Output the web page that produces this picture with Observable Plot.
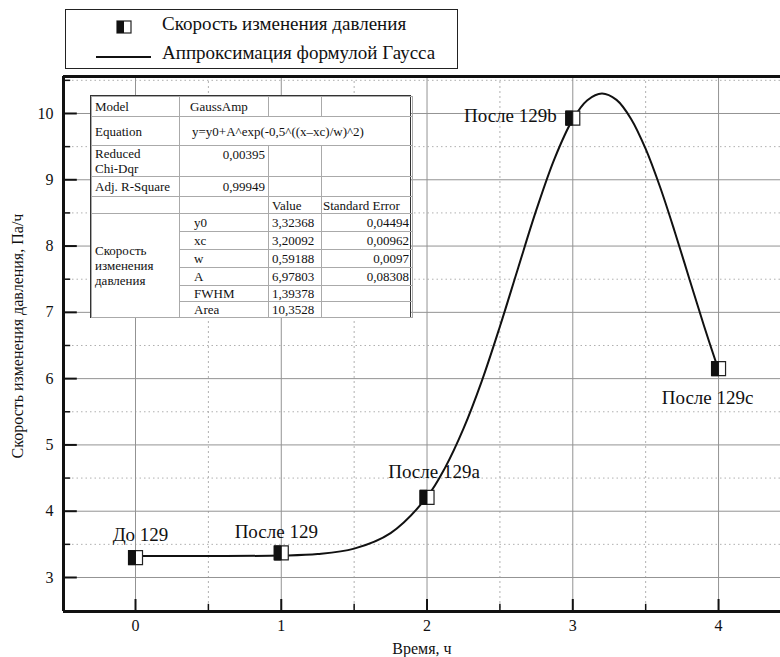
<!DOCTYPE html>
<html>
<head>
<meta charset="utf-8">
<script src="https://cdn.jsdelivr.net/npm/d3@7"></script>
<script src="https://cdn.jsdelivr.net/npm/@observablehq/plot@0.6"></script>
<style>
  html, body { margin: 0; padding: 0; background: #fff; overflow: hidden; }
  body { width: 780px; height: 657px; position: relative; font-family: "Liberation Serif", "DejaVu Serif", serif; }
  #legend { position: absolute; left: 65px; top: 9px; width: 393px; height: 60px; border: 1.5px solid #222; box-sizing: border-box; background: #fff; }
  #legend .row { position: absolute; left: 0; font-size: 19px; color: #111; white-space: nowrap; font-family: "Liberation Serif", serif; }
  #chart { position: absolute; left: 0; top: 72px; }
  #tbl { position: absolute; left: 90px; top: 95px; width: 321px; height: 223px; background: #fff; border: 1.5px solid #333; box-sizing: border-box; }
  #tbl table { border-collapse: collapse; width: 100%; height: 100%; font-size: 13px; color: #111; table-layout: fixed; font-family: "Liberation Serif", serif; }
  #tbl td { border: 1px solid #aaa; padding: 0 3px; line-height: 13px; vertical-align: middle; white-space: nowrap; overflow: visible; }
  #tbl td.r { text-align: right; }
</style>
</head>
<body>
<div id="legend"></div>
<div id="chart"></div>
<div id="tbl"></div>
<script>
// ---- data ----
const times = [0, 1, 2, 3, 4];
const rates = [3.30, 3.37, 4.21, 9.93, 6.15];
const pointLabels = ["До 129", "После 129", "После 129a", "После 129b", "После 129c"];

// fitted curve
const curveX = [0, 0.5, 1, 1.25, 1.5, 1.75, 2, 2.125, 2.25, 2.375, 2.5, 2.625, 2.75, 2.875, 3, 3.1, 3.2, 3.3, 3.4, 3.5, 3.6, 3.7, 3.8, 3.9, 4];
const curveY = [3.324, 3.324, 3.331, 3.354, 3.436, 3.670, 4.215, 4.661, 5.245, 5.959, 6.786, 7.670, 8.545, 9.320, 9.911, 10.201, 10.302, 10.205, 9.918, 9.465, 8.883, 8.213, 7.504, 6.798, 6.128];

const xMajor = [0, 1, 2, 3, 4];
const xMinor = [0.5, 1.5, 2.5, 3.5];
const yMajor = [3, 4, 5, 6, 7, 8, 9, 10];
const yMinor = [3.5, 4.5, 5.5, 6.5, 7.5, 8.5, 9.5, 10.5];

const legendLabels = ["Скорость изменения давления", "Аппроксимация формулой Гаусса"];
const xTitle = "Время, ч";
const yTitle = "Скорость изменения давления, Па/ч";

const tableRows = [
  ["Model", "GaussAmp"],
  ["Equation", "y=y0+A^exp(-0,5^((x–xc)/w)^2)"],
  ["Reduced Chi-Dqr", "0,00395"],
  ["Adj. R-Square", "0,99949"]
];
const paramGroup = "Скорость изменения давления";
const paramNames = ["y0", "xc", "w", "A", "FWHM", "Area"];
const paramValues = ["3,32368", "3,20092", "0,59188", "6,97803", "1,39378", "10,3528"];
const paramErrors = ["0,04494", "0,00962", "0,0097", "0,08308", "", ""];

// ---- chart ----
const SERIF = "Liberation Serif, DejaVu Serif, serif";
const points = times.map((t, i) => ({t, v: rates[i], label: pointLabels[i]}));
const curve = curveX.map((x, i) => ({x, y: curveY[i]}));

const xDom = [-0.494, 4.425];
const yDom = [2.487, 10.558];
const xTick = 12 / 145.75;   // tick length in x units
const yTick = 12 / 66.3;     // tick length in y units

const fullSquare = { draw(ctx, size) { const h = Math.sqrt(size / Math.PI); ctx.rect(-h, -h, 2 * h, 2 * h); } };
const leftHalf = { draw(ctx, size) { const h = Math.sqrt(size / Math.PI); ctx.rect(-h, -h, h, 2 * h); } };

const labelMark = (i, opts) => Plot.text(points.filter((d, j) => j === i),
  {x: "t", y: "v", text: "label", fill: "#111", fontSize: 19, fontFamily: SERIF, ...opts});

const plot = Plot.plot({
  width: 780,
  height: 585,
  marginTop: 4,
  marginBottom: 46,
  marginLeft: 63,
  marginRight: 0,
  style: `font-family: ${SERIF}; font-size: 16px; color: #111; background: #fff;`,
  x: {domain: xDom},
  y: {domain: yDom},
  marks: [
    // grid
    Plot.ruleY(yMinor, {stroke: "#b0b0b0", strokeWidth: 1, strokeDasharray: "1.5,3"}),
    Plot.ruleX(xMinor, {stroke: "#b0b0b0", strokeWidth: 1, strokeDasharray: "2,3"}),
    Plot.ruleY(yMajor, {stroke: "#939393", strokeWidth: 1}),
    Plot.ruleX(xMajor, {stroke: "#939393", strokeWidth: 1}),
    // ticks (inward)
    Plot.ruleX(xMajor, {y1: yDom[0], y2: yDom[0] + yTick, stroke: "#111", strokeWidth: 2}),
    Plot.ruleX(xMinor, {y1: yDom[0], y2: yDom[0] + yTick * 0.6, stroke: "#111", strokeWidth: 1.5}),
    Plot.ruleY(yMajor, {x1: xDom[0], x2: xDom[0] + xTick * 1.15, stroke: "#111", strokeWidth: 2}),
    Plot.ruleY(yMinor, {x1: xDom[0], x2: xDom[0] + xTick * 0.6, stroke: "#111", strokeWidth: 1.5}),
    // axes
    Plot.axisX(xMajor, {tickSize: 0, tickPadding: 8, tickFormat: d => String(d), fontSize: 16, fontFamily: SERIF,
      label: xTitle, labelAnchor: "center", labelArrow: "none", labelOffset: 42}),
    Plot.axisY(yMajor, {tickSize: 0, tickPadding: 10, tickFormat: d => String(d), fontSize: 16, fontFamily: SERIF, label: null}),
    Plot.text([yTitle], {frameAnchor: "left", textAnchor: "middle", rotate: -90, dx: -46, dy: -8, fontSize: 16, fontFamily: SERIF, fill: "#111"}),
    // frame lines
    Plot.ruleX([xDom[0]], {stroke: "#111", strokeWidth: 3}),
    Plot.ruleY([yDom[0]], {stroke: "#111", strokeWidth: 3}),
    Plot.ruleY([yDom[1]], {stroke: "#111", strokeWidth: 3}),
    // fitted curve
    Plot.line(curve, {x: "x", y: "y", curve: "catmull-rom", stroke: "#111", strokeWidth: 2}),
    // markers
    Plot.dot(points, {x: "t", y: "v", symbol: fullSquare, r: 7, fill: "#fff", stroke: "#222", strokeWidth: 1.2}),
    Plot.dot(points, {x: "t", y: "v", symbol: leftHalf, r: 7, fill: "#111", stroke: "#111", strokeWidth: 1}),
    // labels
    labelMark(0, {dx: 5, dy: -23}),
    labelMark(1, {dx: -5, dy: -21}),
    labelMark(2, {dx: 7, dy: -25}),
    labelMark(3, {dx: -16, dy: -2, textAnchor: "end"}),
    labelMark(4, {dx: -11, dy: 29})
  ]
});
document.getElementById("chart").appendChild(plot);
plot.querySelectorAll("text").forEach(t => t.style.fontFamily = SERIF);

// ---- legend ----
const lg = document.getElementById("legend");
lg.innerHTML = `
  <div class="row" style="top:4px;left:0;">
    <svg width="96" height="20" style="vertical-align:middle"><rect x="51" y="4" width="14" height="12" fill="#fff" stroke="#222" stroke-width="1.2"/><rect x="51" y="4" width="7" height="12" fill="#111"/></svg><span style="position:relative;top:-1px;">${legendLabels[0]}</span>
  </div>
  <div class="row" style="top:33px;left:0;">
    <svg width="96" height="20" style="vertical-align:middle"><line x1="30" x2="85" y1="11" y2="11" stroke="#111" stroke-width="2"/></svg><span style="position:relative;top:-1px;">${legendLabels[1]}</span>
  </div>`;

// ---- fit table ----
let html = `<table><colgroup><col style="width:88px"><col style="width:89px"><col style="width:53px"><col style="width:91px"></colgroup>`;
html += `<tr style="height:20px"><td>${tableRows[0][0]}</td><td style="padding-left:10px">${tableRows[0][1]}</td><td></td><td></td></tr>`;
html += `<tr style="height:29px"><td>${tableRows[1][0]}</td><td colspan="3" style="padding-left:12px">${tableRows[1][1]}</td></tr>`;
html += `<tr style="height:31px"><td style="white-space:normal;line-height:15px">${tableRows[2][0].replace(" ", "<br>")}</td><td class="r" style="vertical-align:top;padding-top:2px">${tableRows[2][1]}</td><td></td><td></td></tr>`;
html += `<tr style="height:20px"><td>${tableRows[3][0]}</td><td class="r">${tableRows[3][1]}</td><td></td><td></td></tr>`;
html += `<tr style="height:17px"><td></td><td></td><td>Value</td><td style="padding:0 1px">Standard Error</td></tr>`;
paramNames.forEach((n, i) => {
  html += `<tr style="height:${i < 4 ? 18 : 16}px">` +
    (i === 0 ? `<td rowspan="6" style="white-space:normal;line-height:15px">${paramGroup.replace(/ /g, "<br>")}</td>` : "") +
    `<td style="padding-left:14px">${n}</td><td>${paramValues[i]}</td><td class="r">${paramErrors[i]}</td></tr>`;
});
html += `</table>`;
document.getElementById("tbl").innerHTML = html;
</script>
</body>
</html>
